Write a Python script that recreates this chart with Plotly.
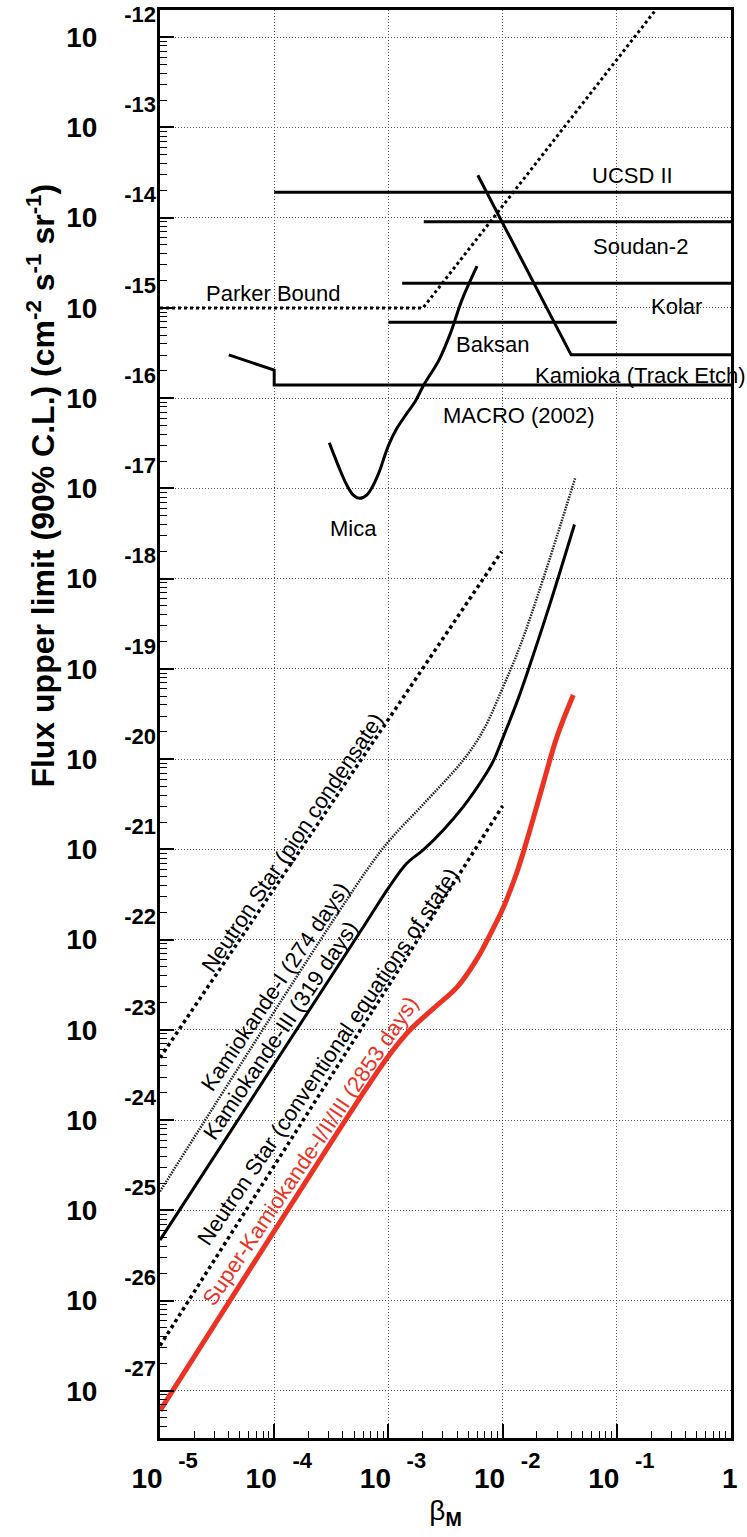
import math
import plotly.graph_objects as go

# ---------------- data ----------------
x_tick_vals = [1e-5, 1e-4, 1e-3, 1e-2, 1e-1, 1.0]
x_tick_base = ["10", "10", "10", "10", "10", "\u00a0\u00a0\u00a01"]
x_tick_exp = ["-5", "-4", "-3", "-2", "-1", ""]

y_tick_vals = [1e-12, 1e-13, 1e-14, 1e-15, 1e-16, 1e-17, 1e-18, 1e-19,
               1e-20, 1e-21, 1e-22, 1e-23, 1e-24, 1e-25, 1e-26, 1e-27]
y_tick_base = ["10"] * 16
y_tick_exp = ["-12", "-13", "-14", "-15", "-16", "-17", "-18", "-19",
              "-20", "-21", "-22", "-23", "-24", "-25", "-26", "-27"]

# upper experiments
ucsd_beta = [1e-4, 1.0]
ucsd_flux = [1.91e-14, 1.91e-14]
soudan_beta = [2.04e-3, 1.0]
soudan_flux = [9.0e-15, 9.0e-15]
kolar_beta = [1.32e-3, 1.0]
kolar_flux = [1.88e-15, 1.88e-15]
baksan_beta = [1e-3, 1e-1]
baksan_flux = [6.92e-16, 6.92e-16]
kamioka_te_beta = [6.07e-3, 3.98e-2, 1.0]
kamioka_te_flux = [2.95e-14, 3.02e-16, 3.02e-16]
macro_beta = [4.0e-5, 1e-4, 1e-4, 1.0]
macro_flux = [3.02e-16, 2.04e-16, 1.40e-16, 1.40e-16]
parker_beta = [1e-5, 2.01e-3, 0.251]
parker_flux = [1e-15, 1e-15, 2.5e-12]

mica_beta = [3.04e-4, 3.30e-4, 3.77e-4, 4.32e-4, 4.93e-4, 5.56e-4, 6.46e-4,
             7.38e-4, 8.43e-4, 9.33e-4, 1.02e-3, 1.18e-3, 1.45e-3, 1.71e-3,
             2.04e-3, 2.77e-3, 3.49e-3, 4.40e-3, 5.97e-3]
mica_flux = [3.21e-17, 2.44e-17, 1.60e-17, 1.09e-17, 8.43e-18, 7.76e-18,
             8.43e-18, 1.09e-17, 1.60e-17, 2.34e-17, 3.16e-17, 4.57e-17,
             6.78e-17, 9.12e-17, 1.40e-16, 2.64e-16, 5.22e-16, 1.22e-15,
             2.90e-15]

# lower curves
ns_pion_beta = [1e-5, 9.82e-3]
ns_pion_flux = [4.90e-24, 2.0e-18]
ns_conv_beta = [1e-5, 1e-2]
ns_conv_flux = [3.16e-27, 3.02e-21]

kam1_beta = [1e-5, 6.31e-4, 1.03e-3, 2.02e-3, 4.53e-3, 6.78e-3, 1.01e-2,
             1.42e-2, 2.27e-2, 4.31e-2]
kam1_flux = [1.62e-25, 5.62e-22, 1.27e-21, 3.16e-21, 9.77e-21, 2.09e-20,
             6.31e-20, 1.78e-19, 1.0e-18, 1.29e-17]

kam3_beta = [1e-5, 6.31e-4, 1.02e-3, 1.45e-3, 2.02e-3, 3.03e-3, 4.53e-3,
             6.78e-3, 8.30e-3, 1.01e-2, 1.37e-2, 1.74e-2, 2.60e-2, 4.26e-2]
kam3_flux = [4.68e-26, 1.51e-22, 3.86e-22, 7.01e-22, 9.86e-22, 1.64e-21,
             2.97e-21, 6.17e-21, 9.55e-21, 1.74e-20, 4.68e-20, 1.12e-19,
             5.25e-19, 3.98e-18]

sk_beta = [1e-5, 6.31e-4, 1.03e-3, 1.55e-3, 2.47e-3, 3.98e-3, 5.93e-3,
           8.32e-3, 1.01e-2, 1.33e-2, 1.74e-2, 2.27e-2, 2.98e-2, 4.16e-2]
sk_flux = [6.03e-28, 2.19e-24, 5.37e-24, 1.0e-23, 1.72e-23, 2.95e-23,
           6.03e-23, 1.35e-22, 2.24e-22, 5.50e-22, 1.66e-21, 5.37e-21,
           1.74e-20, 5.13e-20]

# text labels: (text, beta, flux)
flat_labels = [
    ("UCSD II", 0.136, 2.96e-14),
    ("Soudan-2", 0.161, 4.75e-15),
    ("Kolar", 0.336, 1.03e-15),
    ("Parker Bound", 9.86e-5, 1.46e-15),
    ("Baksan", 8.17e-3, 3.98e-16),
    ("Kamioka (Track Etch)", 0.161, 1.76e-16),
    ("MACRO (2002)", 1.39e-2, 6.41e-17),
    ("Mica", 4.90e-4, 3.63e-18),
]
slanted_labels = [
    ("Neutron Star (pion condensate)", 1.45e-4, 1.19e-21, "black"),
    ("Kamiokande-I (274 days)", 1.02e-4, 3.03e-23, "black"),
    ("Kamiokande-III (319 days)", 1.14e-4, 9.75e-24, "black"),
    ("Neutron Star (conventional equations of state)", 2.98e-4, 5.01e-24, "black"),
    ("Super-Kamiokande-I/II/III (2853 days)", 2.09e-4, 4.57e-25, "#EB3223"),
]

x_range = [-5, 0]
y_range = [math.log10(3e-28), math.log10(2e-12)]

FONT = "Liberation Sans, Arial, Helvetica, sans-serif"
RED = "#EB3223"

fig = go.Figure()

def add_line(x, y, color="black", width=3, dash="solid", shape="linear"):
    fig.add_trace(go.Scatter(x=x, y=y, mode="lines",
                             line=dict(color=color, width=width, dash=dash, shape=shape,
                                       smoothing=1.0),
                             hoverinfo="skip", showlegend=False))

add_line(ucsd_beta, ucsd_flux)
add_line(soudan_beta, soudan_flux)
add_line(kolar_beta, kolar_flux)
add_line(baksan_beta, baksan_flux)
add_line(kamioka_te_beta, kamioka_te_flux)
add_line(macro_beta, macro_flux)
add_line(parker_beta, parker_flux, width=3, dash="dot")
add_line(mica_beta, mica_flux, width=3, shape="spline")

add_line(ns_pion_beta, ns_pion_flux, width=3.5, dash="dot")
add_line(ns_conv_beta, ns_conv_flux, width=3.5, dash="dot")
add_line(kam1_beta, kam1_flux, color="#222222", width=2.5, dash="1.5px,1.2px", shape="spline")
add_line(kam3_beta, kam3_flux, width=3, shape="spline")
add_line(sk_beta, sk_flux, color=RED, width=5, shape="spline")

# invisible trace to host the exponent (overlay) axes
fig.add_trace(go.Scatter(x=[], y=[], xaxis="x2", yaxis="y2", mode="lines",
                         hoverinfo="skip", showlegend=False))

for text, bx, fy in flat_labels:
    fig.add_annotation(x=math.log10(bx), y=math.log10(fy), xref="x", yref="y",
                       text=text, showarrow=False,
                       font=dict(family=FONT, size=22, color="black"),
                       xanchor="center", yanchor="middle")

for text, bx, fy, col in slanted_labels:
    fig.add_annotation(x=math.log10(bx), y=math.log10(fy), xref="x", yref="y",
                       text=text, showarrow=False, textangle=-56,
                       font=dict(family=FONT, size=22, color=col),
                       xanchor="center", yanchor="middle")

# y-axis title
fig.add_annotation(x=-0.21, y=0.667, xref="paper", yref="paper",
                   text="<b>Flux upper limit (90% C.L.) (cm<sup>-2</sup> s<sup>-1</sup> sr<sup>-1</sup>)</b>",
                   showarrow=False, textangle=-90,
                   font=dict(family=FONT, size=32, color="black"),
                   xanchor="center", yanchor="middle")

common = dict(type="log", showline=True, linecolor="black", linewidth=3,
              zeroline=False, automargin=False)

fig.update_layout(
    width=747, height=1537,
    margin=dict(l=160, r=16, t=10, b=99, autoexpand=False),
    plot_bgcolor="white", paper_bgcolor="white",
    showlegend=False,
    xaxis=dict(**common, range=x_range, mirror=True,
               tickmode="array", tickvals=x_tick_vals, ticktext=x_tick_base,
               tickfont=dict(family=FONT, size=28, color="black", weight="bold"),
               ticks="inside", ticklen=14, tickwidth=1.5, tickcolor="black",
               ticklabelshift=-13, ticklabelstandoff=13,
               showgrid=True, gridcolor="#555555", griddash="1px,2px", gridwidth=1,
               minor=dict(ticks="inside", ticklen=7, tickwidth=1.2,
                          tickcolor="black", dtick="D1", showgrid=False),
               title=dict(text="β<sub><b>M</b></sub>", standoff=8,
                          font=dict(family=FONT, size=28, color="black"))),
    yaxis=dict(**common, range=y_range, mirror=True,
               tickmode="array", tickvals=y_tick_vals, ticktext=y_tick_base,
               tickfont=dict(family=FONT, size=28, color="black", weight="bold"),
               ticks="inside", ticklen=14, tickwidth=1.5, tickcolor="black",
               ticklabelstandoff=54,
               showgrid=True, gridcolor="#555555", griddash="1px,2px", gridwidth=1,
               minor=dict(ticks="inside", ticklen=7, tickwidth=1.2,
                          tickcolor="black", dtick="D1", showgrid=False)),
    xaxis2=dict(type="log", range=x_range, overlaying="x", anchor="y2", side="bottom",
                showline=False, showgrid=False, zeroline=False, ticks="", automargin=False,
                tickmode="array", tickvals=x_tick_vals, ticktext=x_tick_exp,
                tickfont=dict(family=FONT, size=22, color="black", weight="bold"),
                ticklabelshift=28, ticklabelstandoff=7),
    yaxis2=dict(type="log", range=y_range, overlaying="y", anchor="x2", side="left",
                showline=False, showgrid=False, zeroline=False, ticks="", automargin=False,
                tickmode="array", tickvals=y_tick_vals, ticktext=y_tick_exp,
                tickfont=dict(family=FONT, size=22, color="black", weight="bold"),
                ticklabelshift=-23, ticklabelstandoff=3),
)

fig.write_html("out.html")
